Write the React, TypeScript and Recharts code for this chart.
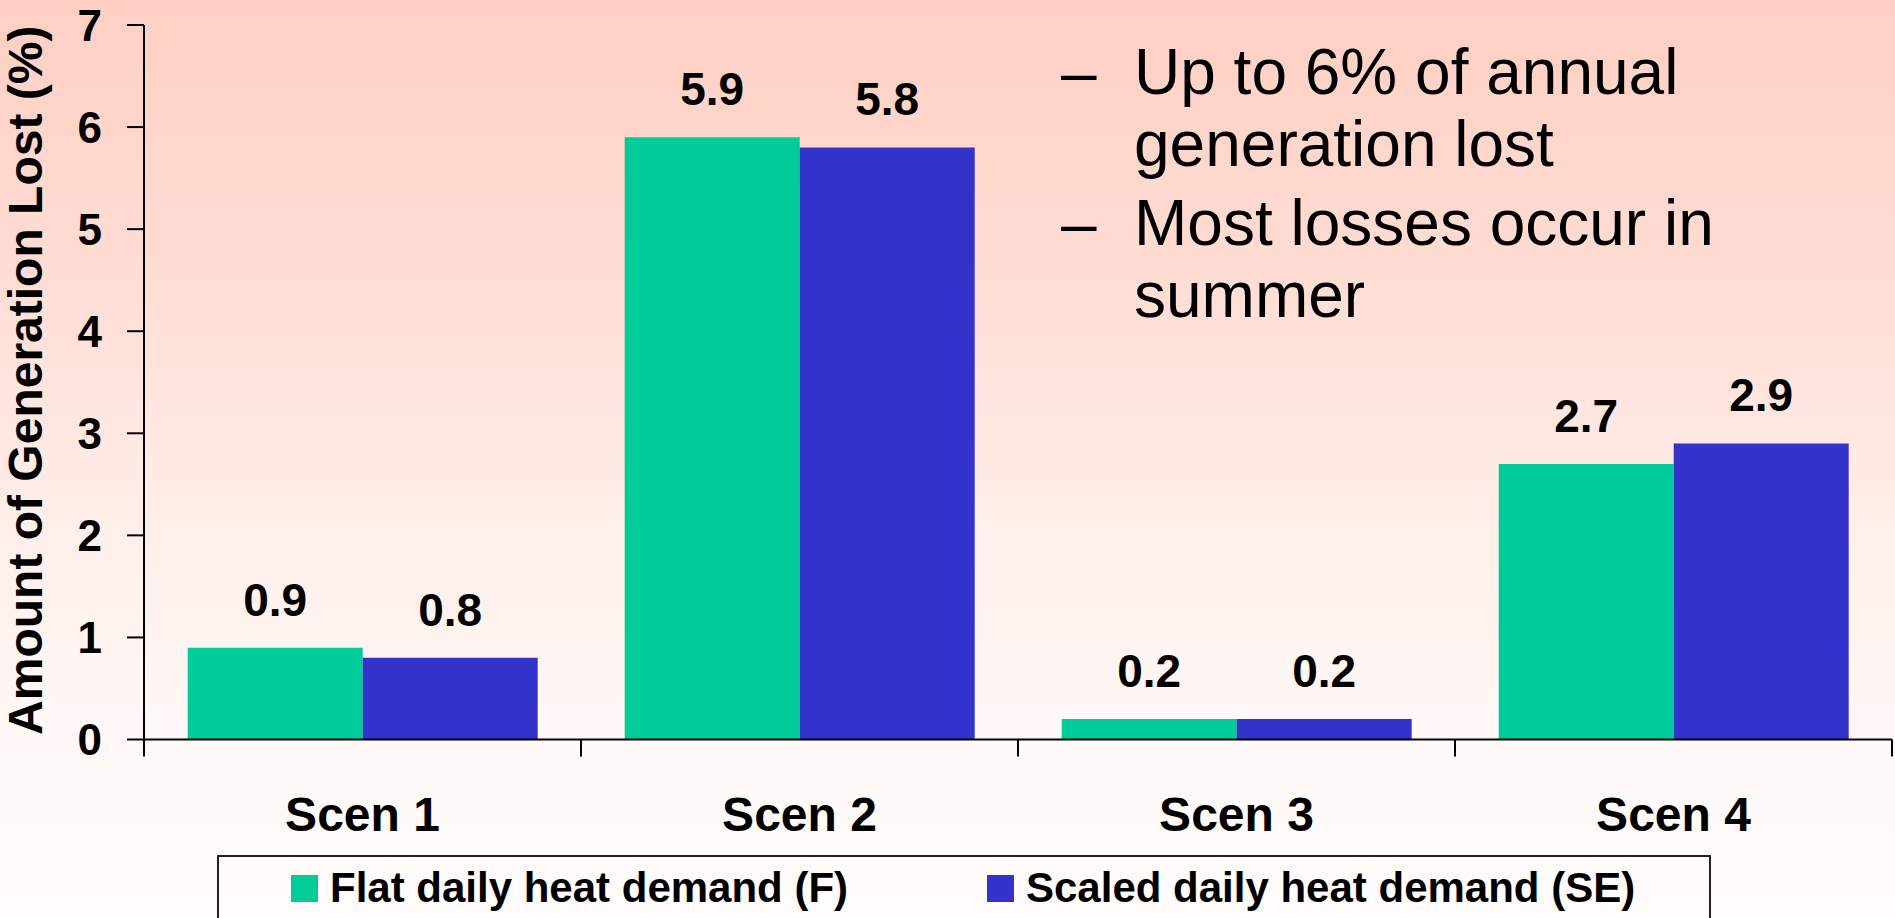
import React from "react";
import { BarChart, Bar, XAxis, YAxis, LabelList, Legend } from "recharts";

const categories = ["Scen 1", "Scen 2", "Scen 3", "Scen 4"];
const flatDemand = [0.9, 5.9, 0.2, 2.7];
const scaledDemand = [0.8, 5.8, 0.2, 2.9];
const yTicks = [0, 1, 2, 3, 4, 5, 6, 7];
const seriesNames = ["Flat daily heat demand (F)", "Scaled daily heat demand (SE)"];
const bulletLines = [
  { dash: true, text: "Up to 6% of annual" },
  { dash: false, text: "generation lost" },
  { dash: true, text: "Most losses occur in" },
  { dash: false, text: "summer" },
];

const GREEN = "#00CC99";
const BLUE = "#3333CC";
const FONT = "'Liberation Sans', Arial, sans-serif";

const chartData = categories.map((name, i) => ({
  name,
  flat: flatDemand[i],
  scaled: scaledDemand[i],
}));

// category label plus tick marks on the band edges (Excel style)
function CategoryTick({ x, y, payload, index, visibleTicksCount }: any) {
  const half = payload.offset || 0;
  const last = index === visibleTicksCount - 1;
  return (
    <g>
      <line x1={x - half} x2={x - half} y1={y} y2={y + 17} stroke="#000" strokeWidth={2} />
      {last && <line x1={x + half} x2={x + half} y1={y} y2={y + 17} stroke="#000" strokeWidth={2} />}
      <text x={x} y={y + 91} textAnchor="middle" fontSize={48} fontWeight="bold" fill="#000">
        {payload.value}
      </text>
    </g>
  );
}

function YLabel({ viewBox }: any) {
  const cx = viewBox.x + 42;
  const cy = viewBox.y + viewBox.height / 2 - 2;
  return (
    <text
      x={cx}
      y={cy}
      transform={`rotate(-90 ${cx} ${cy})`}
      textAnchor="middle"
      fontSize={48}
      fontWeight="bold"
      fill="#000"
    >
      Amount of Generation Lost (%)
    </text>
  );
}

function LegendBox() {
  const colors = [GREEN, BLUE];
  const lefts = [74, 770];
  return (
    <svg width={1494} height={100} style={{ display: "block" }}>
      <rect x={1} y={1} width={1492} height={120} fill="none" stroke="#222" strokeWidth={2} />
      {seriesNames.map((n, i) => (
        <g key={n}>
          <rect x={lefts[i]} y={20} width={27} height={27} fill={colors[i]} />
          <text x={lefts[i] + 39} y={47} fontSize={42} fontWeight="bold" fill="#000">
            {n}
          </text>
        </g>
      ))}
    </svg>
  );
}

export default function App() {
  const baselines = [94, 166, 245, 317];
  return (
    <div
      style={{
        position: "absolute",
        left: 0,
        top: 0,
        width: 1895,
        height: 918,
        overflow: "hidden",
        fontFamily: FONT,
        background:
          "linear-gradient(to bottom, #FFCFC3 0%, #FFDDD4 30%, #FFEDE8 55%, #FFF8F6 78%, #FFFCFB 100%)",
      }}
    >
      <BarChart
        width={1895}
        height={918}
        data={chartData}
        margin={{ top: 25, right: 3, bottom: 78.5, left: 0 }}
        barCategoryGap="10%"
        barGap={0}
      >
        <XAxis
          dataKey="name"
          height={100}
          tickLine={false}
          tickSize={0}
          tickMargin={0}
          axisLine={{ stroke: "#000", strokeWidth: 2 }}
          tick={<CategoryTick />}
          interval={0}
        />
        <YAxis
          width={144}
          domain={[0, 7]}
          ticks={yTicks}
          interval={0}
          tickSize={17}
          tickMargin={25}
          axisLine={{ stroke: "#000", strokeWidth: 2 }}
          tickLine={{ stroke: "#000", strokeWidth: 2 }}
          tick={{ fill: "#000", fontSize: 44, fontWeight: "bold" }}
          label={{ content: (p: any) => <YLabel {...p} /> }}
        />
        <Legend
          layout="horizontal"
          verticalAlign="middle"
          content={() => <LegendBox />}
          wrapperStyle={{ position: "absolute", left: 217, top: 855, width: 1494, height: 100 }}
        />
        <Bar dataKey="flat" name={seriesNames[0]} fill={GREEN} isAnimationActive={false}>
          <LabelList dataKey="flat" position="top" offset={32} fill="#000" fontSize={46} fontWeight="bold" />
        </Bar>
        <Bar dataKey="scaled" name={seriesNames[1]} fill={BLUE} isAnimationActive={false}>
          <LabelList dataKey="scaled" position="top" offset={32} fill="#000" fontSize={46} fontWeight="bold" />
        </Bar>
      </BarChart>
      <svg
        width={1895}
        height={918}
        style={{ position: "absolute", left: 0, top: 0, pointerEvents: "none" }}
      >
        {bulletLines.map((l, i) => (
          <g key={l.text}>
            {l.dash && (
              <text x={1061} y={baselines[i]} fontSize={64} fill="#000">
                –
              </text>
            )}
            <text x={1134} y={baselines[i]} fontSize={64} fill="#000">
              {l.text}
            </text>
          </g>
        ))}
      </svg>
    </div>
  );
}
